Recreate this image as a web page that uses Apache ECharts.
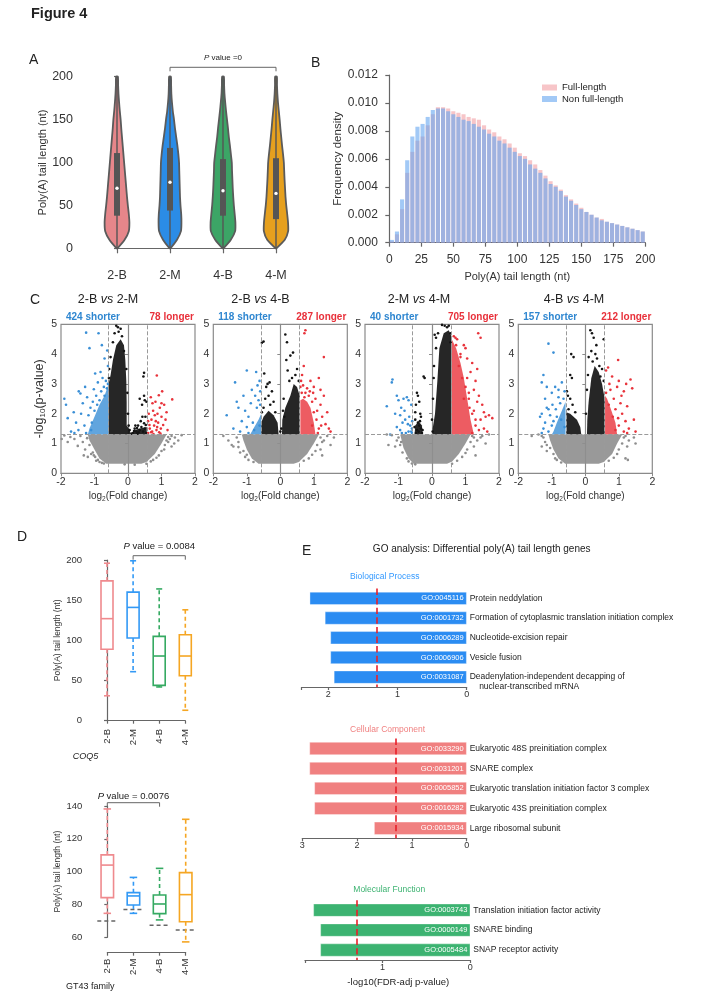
<!DOCTYPE html>
<html><head><meta charset="utf-8">
<script src="https://cdn.jsdelivr.net/npm/echarts@6/dist/echarts.min.js"></script>
<style>html,body{margin:0;padding:0;background:#fff;}#c{width:720px;height:994px;}</style>
</head><body><div id="c"></div>
<script>
// ================= DATA =================
const groups = ['2-B', '2-M', '4-B', '4-M'];

// Panel A: violin density profiles (relative half-width) at these tail lengths
const violinLevels = [0,10,20,30,40,50,60,70,80,90,100,110,120,130,140,150,160,170,180,190,200];
const violin2B = [0,0.60,0.95,1.00,0.95,0.87,0.80,0.74,0.68,0.62,0.56,0.50,0.44,0.38,0.32,0.27,0.20,0.14,0.09,0.06,0.04];
const violin2M = [0,0.55,0.88,0.92,0.90,0.84,0.80,0.78,0.76,0.74,0.72,0.66,0.58,0.48,0.38,0.30,0.20,0.13,0.08,0.06,0.04];
const violin4B = [0,0.62,0.98,1.00,0.94,0.87,0.82,0.78,0.75,0.72,0.70,0.62,0.54,0.45,0.38,0.30,0.22,0.15,0.09,0.06,0.04];
const violin4M = [0,0.70,0.98,0.97,0.90,0.82,0.76,0.72,0.68,0.65,0.62,0.55,0.47,0.40,0.33,0.27,0.20,0.13,0.08,0.05,0.04];
const violinQ1 = [38, 44, 38, 34];
const violinMedian = [70, 77, 67, 64];
const violinQ3 = [111, 117, 104, 105];
const violinMin = [0, 0, 0, 0];
const violinMax = [200, 200, 200, 200];
const pValueA = 'P value =0';

// Panel B: histogram (bin start, width 4 nt)
const binStarts = [0,4,8,12,16,20,24,28,32,36,40,44,48,52,56,60,64,68,72,76,80,84,88,92,96,100,104,108,112,116,120,124,128,132,136,140,144,148,152,156,160,164,168,172,176,180,184,188,192,196];
const binWidth = 4;
const fullLength = [0.0001,0.0006,0.0024,0.0050,0.0065,0.0073,0.0076,0.0084,0.0092,0.0097,0.0097,0.0096,0.0094,0.0093,0.0092,0.0090,0.0089,0.0088,0.0084,0.0081,0.0079,0.0076,0.0074,0.0071,0.0068,0.0064,0.0062,0.0059,0.0056,0.0052,0.0048,0.0044,0.0041,0.0038,0.0034,0.0031,0.0028,0.0025,0.0022,0.0020,0.0018,0.0017,0.0015,0.0014,0.0013,0.0012,0.0011,0.0010,0.0009,0.0008];
const nonFullLength = [0.0002,0.0008,0.0031,0.0059,0.0076,0.0083,0.0085,0.0090,0.0095,0.0096,0.0096,0.0094,0.0092,0.0090,0.0088,0.0087,0.0085,0.0083,0.0081,0.0078,0.0076,0.0073,0.0071,0.0068,0.0065,0.0062,0.0060,0.0056,0.0053,0.0050,0.0046,0.0042,0.0040,0.0037,0.0033,0.0030,0.0027,0.0024,0.0022,0.0020,0.0018,0.0016,0.0015,0.0014,0.0013,0.0012,0.0011,0.0010,0.0009,0.0008];

// Panel C: volcano plots
const comparisons = [['2-B','2-M'],['2-B','4-B'],['2-M','4-M'],['4-B','4-M']];
const shorterCounts = [424, 118, 40, 157];
const longerCounts = [78, 287, 705, 212];
const fcCut = 0.58;
const pCut = 1.3;

const v1GrayCore = [[-1.2,1.3],[1.15,1.3],[1.0,1.0],[0.8,0.65],[0.55,0.38],[0.4,0.32],[-0.65,0.32],[-0.85,0.5],[-1.0,0.8],[-1.15,1.1]];
const v1Gray = [[-1.9,1.27],[-1.72,1.22],[-1.6,1.15],[-1.5,0.92],[-1.42,1.25],[-1.35,1.05],[-1.28,0.8],[-1.22,1.18],[-1.15,0.95],[-1.1,0.65],[-1.05,0.7],[-1.02,0.6],[-0.98,0.55],[-0.95,0.42],[-0.9,0.45],[-0.85,0.38],[-0.78,0.35],[-0.72,0.33],[1.2,1.22],[1.15,1.1],[1.25,1.15],[1.1,0.95],[1.2,1.05],[1.3,1.25],[1.3,0.9],[1.4,1.2],[1.5,1.1],[1.0,0.75],[0.92,0.6],[0.85,0.52],[0.75,0.45],[0.68,0.4],[0.55,0.32],[1.08,0.8],[-1.2,0.55],[-1.8,1.05],[-1.98,1.15],[1.6,1.28],[-0.1,0.3],[0.2,0.29],[-1.32,0.6],[1.38,1.0]];
const v1BlackCores = [[[-0.58,1.3],[0.08,1.3],[0.05,1.45],[-0.04,1.6],[-0.04,2.4],[-0.05,3.1],[-0.08,3.8],[-0.12,4.3],[-0.22,4.5],[-0.35,4.3],[-0.45,3.8],[-0.52,3.3],[-0.58,3.0]],[[0.15,1.3],[0.56,1.3],[0.56,1.55],[0.35,1.5],[0.2,1.45]]];
const v1Black = [[-0.35,4.95],[-0.3,4.9],[-0.22,4.85],[-0.28,4.75],[-0.4,4.7],[-0.18,4.6],[-0.45,4.4],[-0.12,4.1],[-0.52,3.9],[-0.05,3.5],[-0.02,2.7],[0.0,2.0],[0.02,1.6],[-0.56,3.5],[-0.57,3.2],[0.48,3.37],[0.46,3.25],[0.48,2.6],[0.5,2.45],[0.35,2.5],[0.42,2.3],[0.55,2.4],[0.15,1.35],[0.2,1.5],[0.25,1.4],[0.3,1.6],[0.35,1.45],[0.4,1.55],[0.45,1.4],[0.5,1.5],[0.55,1.35],[0.32,1.38],[0.18,1.42],[0.28,1.33],[0.48,1.68],[0.38,1.75],[0.52,1.9],[0.1,1.33],[0.22,1.6],[0.43,1.9],[0.05,1.45],[0.53,1.62],[0.27,1.52]];
const v1BlueCores = [[[-0.58,1.3],[-0.58,3.0],[-0.7,2.6],[-0.85,2.3],[-1.0,1.9],[-1.15,1.5],[-1.2,1.3]]];
const v1Blue = [[-1.25,4.72],[-0.88,4.7],[-1.15,4.2],[-0.78,4.3],[-0.62,4.12],[-0.7,3.85],[-0.6,3.6],[-1.47,2.75],[-1.42,2.68],[-1.9,2.5],[-1.85,2.3],[-1.8,1.85],[-1.62,2.05],[-1.55,1.7],[-1.35,2.35],[-1.22,2.55],[-1.18,1.95],[-1.12,2.2],[-1.02,2.82],[-0.95,2.6],[-0.9,3.05],[-0.85,2.45],[-0.8,2.75],[-0.76,3.2],[-0.72,2.9],[-0.66,3.1],[-0.63,2.85],[-1.08,1.7],[-1.3,1.6],[-1.48,1.45],[-1.7,1.4],[-1.25,1.35],[-1.4,2.0],[-1.0,2.1],[-1.1,1.45],[-0.92,2.3],[-0.7,2.6],[-1.6,1.35],[-0.82,3.4],[-0.6,3.0],[-1.05,2.4],[-1.28,2.9],[-0.98,3.35]];
const v1RedCores = [];
const v1Red = [[0.6,1.35],[0.62,2.0],[0.65,1.5],[0.68,2.55],[0.7,1.8],[0.72,1.4],[0.75,2.1],[0.76,1.32],[0.78,1.6],[0.8,1.95],[0.82,2.4],[0.85,1.45],[0.86,3.28],[0.88,2.0],[0.9,1.7],[0.92,2.62],[0.95,2.2],[0.98,1.5],[1.0,1.9],[1.02,2.75],[1.05,1.62],[1.08,2.3],[1.12,1.8],[1.18,1.45],[1.32,2.48],[0.64,1.62],[0.69,1.38],[0.73,2.35],[0.83,1.75],[0.93,1.38],[1.0,2.35],[1.15,2.05],[0.87,1.55],[0.6,1.75],[0.97,1.33]];

const v2GrayCore = [[-1.15,1.3],[1.15,1.3],[1.0,1.0],[0.8,0.65],[0.55,0.38],[0.4,0.32],[-0.65,0.32],[-0.85,0.5],[-1.0,0.8],[-1.1,1.1]];
const v2Gray = [[-1.7,1.25],[-1.55,1.1],[-1.4,0.9],[-1.3,1.2],[-1.2,0.7],[-1.1,0.75],[-1.05,0.55],[-1.25,1.05],[-0.95,0.45],[-1.25,0.88],[-1.45,0.95],[-1.0,0.62],[1.2,1.2],[1.1,0.95],[1.25,1.05],[1.2,0.8],[1.3,1.1],[1.4,1.25],[1.05,0.75],[0.95,0.62],[0.85,0.5],[1.5,0.95],[1.25,0.6],[-0.8,0.38],[0.7,0.42],[1.6,1.2]];
const v2BlackCores = [[[-0.57,1.3],[-0.05,1.3],[-0.08,1.7],[-0.2,1.95],[-0.35,2.1],[-0.5,1.9],[-0.57,1.7]],[[0.05,1.3],[0.58,1.3],[0.58,2.6],[0.5,2.9],[0.4,3.0],[0.3,2.6],[0.15,2.2],[0.06,1.8]]];
const v2Black = [[-0.5,2.2],[-0.45,2.5],[-0.42,2.9],[-0.38,3.0],[-0.3,2.3],[-0.25,2.75],[-0.2,2.4],[-0.15,2.05],[-0.35,2.6],[-0.55,2.05],[-0.48,3.35],[-0.32,3.05],[-0.55,4.38],[-0.5,4.42],[0.15,4.66],[0.2,4.4],[0.38,4.05],[0.3,3.95],[0.18,3.8],[0.22,3.45],[0.45,3.3],[0.35,3.2],[0.1,2.5],[0.08,2.1],[0.12,1.9],[0.55,3.1],[0.5,3.5],[0.27,3.1],[0.03,1.5],[0.0,1.4]];
const v2BlueCores = [[[-0.57,1.3],[-0.57,2.0],[-0.65,1.8],[-0.8,1.5],[-0.9,1.3]]];
const v2Blue = [[-1.35,3.05],[-1.0,3.45],[-0.72,3.4],[-0.68,2.95],[-0.62,3.1],[-1.3,2.4],[-1.25,2.2],[-1.6,1.95],[-1.05,2.1],[-0.95,1.9],[-0.88,2.35],[-0.82,1.7],[-0.75,2.6],[-0.7,2.2],[-0.65,2.45],[-0.6,2.75],[-1.15,1.75],[-1.0,1.55],[-1.2,1.4],[-1.4,1.5],[-0.95,1.35],[-0.78,1.45],[-0.62,1.6],[-1.1,2.6],[-0.85,2.8],[-0.6,2.3]];
const v2RedCores = [[[0.6,1.3],[1.05,1.3],[1.0,1.7],[0.9,2.2],[0.8,2.4],[0.68,2.5],[0.6,2.45]]];
const v2Red = [[0.75,4.8],[0.72,4.7],[1.3,3.9],[0.65,3.3],[0.62,3.1],[0.68,2.95],[0.8,2.85],[0.9,3.1],[1.15,3.2],[1.0,2.9],[0.75,2.7],[1.05,2.5],[0.85,2.6],[1.2,2.3],[1.1,2.1],[1.25,1.9],[1.35,1.65],[1.45,1.5],[1.4,2.05],[0.95,2.4],[1.15,1.5],[1.08,1.8],[0.95,1.6],[1.3,2.6],[1.5,1.4],[0.7,3.6],[0.98,2.7],[1.2,2.8],[1.12,1.35],[0.72,2.55],[0.88,2.75],[1.0,2.05],[1.22,1.6],[0.64,2.7],[0.6,2.9]];

const v3GrayCore = [[-0.95,1.3],[1.15,1.3],[1.0,1.0],[0.8,0.65],[0.6,0.4],[0.45,0.32],[-0.55,0.32],[-0.7,0.5],[-0.85,0.85]];
const v3Gray = [[-1.35,1.3],[-1.2,1.28],[-1.05,1.1],[-1.0,1.2],[-0.95,0.95],[-0.88,0.7],[-0.92,1.05],[-0.75,0.5],[-0.7,0.4],[-1.1,0.9],[-1.3,0.95],[1.2,1.25],[1.15,1.05],[1.25,1.2],[1.25,0.9],[1.35,1.1],[1.45,1.2],[1.5,1.25],[1.05,0.8],[1.0,0.68],[0.9,0.55],[0.75,0.42],[1.3,0.6],[-0.6,0.33],[0.6,0.32],[1.6,1.0],[-0.5,0.3],[1.7,1.3]];
const v3BlackCores = [[[-0.52,1.3],[-0.28,1.3],[-0.3,1.6],[-0.4,1.75],[-0.5,1.6]],[[0.02,1.3],[0.58,1.3],[0.58,4.6],[0.5,4.8],[0.35,4.7],[0.22,4.2],[0.16,3.1],[0.09,2.0],[0.02,1.5]]];
const v3Black = [[-0.45,2.7],[-0.42,2.6],[-0.38,2.4],[-0.48,2.3],[-0.35,2.0],[-0.5,1.8],[-0.42,1.7],[-0.38,1.6],[-0.33,1.5],[-0.45,1.45],[-0.4,1.4],[-0.48,1.35],[-0.3,1.35],[-0.36,1.75],[-0.52,1.55],[-0.28,1.45],[-0.25,3.25],[-0.22,3.2],[-0.5,2.05],[-0.33,1.9],[0.3,4.98],[0.38,4.95],[0.45,4.9],[0.5,4.95],[0.55,4.7],[0.08,4.65],[0.12,4.55],[0.18,4.7],[0.05,3.2],[0.03,2.5],[0.0,1.8],[0.02,1.4],[0.55,4.4],[0.12,4.2],[0.06,3.6]];
const v3BlueCores = [];
const v3Blue = [[-1.18,3.15],[-1.2,3.05],[-1.05,2.6],[-1.0,2.45],[-0.92,2.2],[-0.85,2.5],[-0.75,2.55],[-0.7,2.45],[-0.62,2.3],[-1.35,2.25],[-1.1,2.0],[-0.95,1.95],[-0.8,1.8],[-0.72,1.65],[-0.65,1.6],[-0.88,1.7],[-0.6,1.5],[-0.7,1.4],[-0.78,1.35],[-0.62,1.4],[-1.25,1.3],[-0.95,1.45],[-0.59,1.75],[-0.68,1.9],[-1.05,1.55],[-0.82,2.1],[-0.6,1.35],[-0.9,1.35]];
const v3RedCores = [[[0.59,1.3],[1.25,1.3],[1.15,1.8],[1.05,2.5],[0.95,3.2],[0.85,3.7],[0.72,4.2],[0.59,4.5]]];
const v3Red = [[0.65,4.6],[0.7,4.55],[0.75,4.5],[1.38,4.7],[1.45,4.55],[0.95,4.3],[1.0,4.2],[0.85,4.0],[1.05,3.85],[1.2,3.7],[1.15,3.4],[1.3,3.1],[1.25,2.8],[1.4,2.6],[1.5,2.3],[1.55,2.05],[1.6,1.9],[1.7,1.95],[1.8,1.85],[1.35,2.4],[1.45,1.8],[1.3,1.6],[1.25,2.1],[1.1,2.5],[1.0,2.9],[0.9,3.2],[0.8,3.6],[1.05,3.2],[1.2,2.0],[1.4,1.45],[1.55,1.5],[0.85,3.9],[0.72,4.3],[1.1,2.7],[1.35,3.5],[1.65,1.4],[1.2,1.35],[1.3,1.8],[1.12,2.2],[0.95,2.5]];

const v4GrayCore = [[-1.1,1.3],[1.1,1.3],[0.95,1.0],[0.8,0.65],[0.55,0.38],[0.4,0.32],[-0.6,0.32],[-0.8,0.5],[-0.95,0.8],[-1.05,1.1]];
const v4Gray = [[-1.4,1.3],[-1.3,1.25],[-1.2,1.05],[-1.25,1.2],[-1.05,0.85],[-1.15,0.95],[-0.95,0.65],[-0.9,0.5],[-0.85,0.45],[-1.15,0.75],[-1.3,0.9],[1.15,1.2],[1.1,1.0],[1.2,1.25],[1.25,0.9],[1.3,1.1],[1.0,0.8],[0.95,0.65],[0.85,0.52],[1.2,0.5],[1.27,0.45],[0.7,0.42],[-0.72,0.36],[1.45,1.2],[-1.6,1.25],[1.5,1.0]];
const v4BlackCores = [[[-0.57,1.3],[-0.12,1.3],[-0.15,1.55],[-0.25,1.8],[-0.45,2.0],[-0.57,2.05]],[[0.05,1.3],[0.58,1.3],[0.58,2.5],[0.5,3.0],[0.4,3.4],[0.28,3.6],[0.18,3.2],[0.1,2.4],[0.06,1.8]]];
const v4Black = [[-0.45,3.3],[-0.4,3.2],[-0.55,2.75],[-0.52,2.6],[-0.45,2.5],[-0.38,2.3],[-0.5,2.15],[-0.3,2.05],[-0.42,4.0],[-0.35,3.9],[0.15,4.8],[0.2,4.7],[0.25,4.55],[0.18,4.1],[0.3,4.0],[0.35,3.85],[0.1,3.9],[0.22,3.75],[0.42,3.6],[0.5,3.5],[0.55,4.5],[0.08,3.3],[0.45,3.25],[0.05,2.8],[0.02,2.0],[0.33,4.3],[0.55,3.1]];
const v4BlueCores = [[[-0.59,1.3],[-0.59,2.4],[-0.7,2.1],[-0.85,1.7],[-0.95,1.4],[-1.0,1.3]]];
const v4Blue = [[-1.1,4.35],[-0.95,4.05],[-1.25,3.3],[-1.3,3.05],[-1.15,2.9],[-1.0,2.7],[-0.9,2.9],[-0.8,2.8],[-0.7,3.05],[-0.65,2.5],[-1.2,2.5],[-1.3,2.0],[-1.35,1.9],[-1.1,2.15],[-1.2,1.7],[-1.05,1.95],[-0.98,2.3],[-0.88,2.15],[-0.75,2.35],[-0.62,2.75],[-1.25,1.5],[-1.1,1.4],[-1.0,1.6],[-0.85,1.9],[-1.3,1.35],[-0.72,1.8],[-0.62,1.55],[-0.95,1.75],[-1.15,2.2],[-0.8,2.55]];
const v4RedCores = [[[0.59,1.3],[0.95,1.3],[0.9,1.7],[0.78,2.1],[0.65,2.5],[0.59,2.6]]];
const v4Red = [[0.98,3.8],[0.68,3.55],[0.62,3.45],[0.8,3.25],[1.0,3.1],[1.35,3.15],[1.22,3.0],[0.95,2.9],[0.75,2.8],[1.15,2.75],[1.4,2.85],[0.85,2.5],[1.05,2.35],[1.25,2.25],[0.7,2.3],[0.9,2.15],[1.1,2.0],[1.2,1.75],[1.45,1.8],[1.0,1.6],[1.3,1.5],[0.98,1.85],[1.15,1.4],[0.82,1.9],[0.62,2.7],[1.08,2.6],[1.5,1.4],[1.25,1.35],[0.72,3.0],[0.9,1.45]];

// Panel D: box plots [min, Q1, median, Q3, max]
const coq5Stats = [[31,89,127,174,196],[61,103,141,160,199],[42,44,80.5,105,164],[13,56,80.5,107,138]];
const coq5PValue = 'P value = 0.0084';
const gt43Stats = [[74.6,84.2,104,110.2,138.2],[74.6,79.7,85.2,87.2,96.5],[70.6,74.4,80.3,85.8,102],[57.2,69.5,86,99.4,131.9]];
const gt43Reference = [70, 76.9, 67.3, 64.5];
const gt43PValue = 'P value = 0.0076';

// Panel E: GO analysis
const bpTerms = ['Protein neddylation','Formation of cytoplasmic translation initiation complex','Nucleotide-excision repair','Vesicle fusion','Deadenylation-independent decapping of\n    nuclear-transcribed mRNA'];
const bpIds = ['GO:0045116','GO:0001732','GO:0006289','GO:0006906','GO:0031087'];
const bpValues = [2.27, 2.05, 1.97, 1.97, 1.92];
const ccTerms = ['Eukaryotic 48S preinitiation complex','SNARE complex','Eukaryotic translation initiation factor 3 complex','Eukaryotic 43S preinitiation complex','Large ribosomal subunit'];
const ccIds = ['GO:0033290','GO:0031201','GO:0005852','GO:0016282','GO:0015934'];
const ccValues = [2.87, 2.87, 2.78, 2.78, 1.69];
const mfTerms = ['Translation initiation factor activity','SNARE binding','SNAP receptor activity'];
const mfIds = ['GO:0003743','GO:0000149','GO:0005484'];
const mfValues = [1.79, 1.71, 1.71];
const fdrThreshold = 1.3;

// ================= STYLE / LAYOUT =================
const FF = '"Liberation Sans", Arial, Helvetica, sans-serif';
const AXC = '#666';
const violinColors = ['#e6868a','#2b8ce6','#3ca566','#e6a01e'];
const boxColors = ['#ef8a8e','#3399f5','#35aa62','#f5a623'];
const volcanoGray = '#8e8e8e', volcanoBlack = '#141414', volcanoBlue = '#3a8fd6', volcanoRed = '#e8333b';
const vLeft = [61, 213.3, 365, 518.3];
const vTitleX = [108, 260.5, 419, 574];

const chart = echarts.init(document.getElementById('c'), null, {renderer: 'canvas'});

function axLine() { return {show: true, lineStyle: {color: AXC, width: 1.2}}; }
function axTick(len) { return {show: true, inside: false, length: len, lineStyle: {color: AXC, width: 1.2}}; }

const grids = [
  {left: 117, top: 76.7, width: 159, height: 171.6},
  {left: 389.3, top: 75, width: 256, height: 167.7}
];
vLeft.forEach(l => grids.push({left: l, top: 324.3, width: 134, height: 149, show: true, borderColor: '#8a8a8a', borderWidth: 1.2}));
grids.push({left: 107, top: 560, width: 78.3, height: 160.7});
grids.push({left: 107.3, top: 806, width: 78.4, height: 131.3});
grids.push({left: 301.7, top: 588.5, width: 165, height: 98.5});
grids.push({left: 302.3, top: 738.5, width: 164.4, height: 99.8});
grids.push({left: 305, top: 900.2, width: 165.3, height: 59.8});

const xAxes = [], yAxes = [];
// A
xAxes.push({gridIndex: 0, type: 'value', min: 0, max: 3, interval: 1, offset: 12, axisLine: axLine(), axisTick: axTick(5), splitLine: {show: false},
  axisLabel: {formatter: v => groups[v] || '', fontSize: 12.5, color: '#333', fontFamily: FF, margin: 9}});
yAxes.push({gridIndex: 0, type: 'value', min: 0, max: 200, interval: 50, offset: 40, axisLine: axLine(), axisTick: axTick(3), splitLine: {show: false},
  axisLabel: {fontSize: 12.5, color: '#333', fontFamily: FF, margin: 4},
  name: 'Poly(A) tail length (nt)', nameLocation: 'middle', nameGap: 26, nameTextStyle: {fontSize: 11, color: '#333', fontFamily: FF}});
// B
xAxes.push({gridIndex: 1, type: 'value', min: 0, max: 200, interval: 25, offset: 7.3, axisLine: axLine(), axisTick: axTick(4), splitLine: {show: false},
  axisLabel: {fontSize: 12, color: '#333', fontFamily: FF, margin: 4},
  name: 'Poly(A) tail length (nt)', nameLocation: 'middle', nameGap: 21, nameTextStyle: {fontSize: 11, color: '#333', fontFamily: FF}});
yAxes.push({gridIndex: 1, type: 'value', min: 0, max: 0.012, interval: 0.002, offset: 7.5, axisLine: axLine(), axisTick: axTick(4), splitLine: {show: false},
  axisLabel: {formatter: v => v.toFixed(3), fontSize: 12, color: '#333', fontFamily: FF, margin: 4},
  name: 'Frequency density', nameLocation: 'middle', nameGap: 36, nameTextStyle: {fontSize: 11.5, color: '#333', fontFamily: FF}});
// C
vLeft.forEach((l, k) => {
  xAxes.push({gridIndex: 2 + k, type: 'value', min: -2, max: 2, interval: 1, axisLine: {show: true, lineStyle: {color: '#8a8a8a', width: 1.2}}, axisTick: {show: true, length: 3, lineStyle: {color: '#8a8a8a'}}, splitLine: {show: false},
    axisLabel: {fontSize: 10.5, color: '#333', fontFamily: FF, margin: 3},
    name: 'log{s|2}(Fold change)', nameLocation: 'middle', nameGap: 17,
    nameTextStyle: {fontSize: 10, color: '#333', fontFamily: FF, rich: {s: {fontSize: 6.5, fontFamily: FF, color: '#333', padding: [5, 0, 0, 0]}}}});
  const ya = {gridIndex: 2 + k, type: 'value', min: 0, max: 5, interval: 1, axisLine: {show: true, lineStyle: {color: '#8a8a8a', width: 1.2}}, axisTick: {show: true, length: 3, lineStyle: {color: '#8a8a8a'}}, splitLine: {show: false},
    axisLabel: {fontSize: 10.5, color: '#333', fontFamily: FF, margin: 4}};
  if (k === 0) {
    ya.name = '-log{s|10}(p-value)'; ya.nameLocation = 'middle'; ya.nameGap = 14;
    ya.nameTextStyle = {fontSize: 12.5, color: '#333', fontFamily: FF, rich: {s: {fontSize: 8, fontFamily: FF, color: '#333', padding: [6, 0, 0, 0]}}};
  }
  yAxes.push(ya);
});
// D1, D2
xAxes.push({gridIndex: 6, type: 'value', min: 0, max: 3, interval: 1, offset: 5.3, axisLine: axLine(), axisTick: axTick(3), splitLine: {show: false},
  axisLabel: {formatter: v => groups[v] || '', rotate: 90, fontSize: 9.5, color: '#333', fontFamily: FF, margin: 3}});
yAxes.push({gridIndex: 6, type: 'value', min: 0, max: 200, interval: 50, offset: 20, axisLine: axLine(), axisTick: axTick(3), splitLine: {show: false},
  axisLabel: {fontSize: 9.5, color: '#333', fontFamily: FF, margin: 5},
  name: 'Poly(A) tail length (nt)', nameLocation: 'middle', nameGap: 18, nameTextStyle: {fontSize: 8.5, color: '#333', fontFamily: FF}});
xAxes.push({gridIndex: 7, type: 'value', min: 0, max: 3, interval: 1, offset: 15.4, axisLine: axLine(), axisTick: axTick(3), splitLine: {show: false},
  axisLabel: {formatter: v => groups[v] || '', rotate: 90, fontSize: 9.5, color: '#333', fontFamily: FF, margin: 6}});
yAxes.push({gridIndex: 7, type: 'value', min: 60, max: 140, interval: 20, offset: 20, axisLine: axLine(), axisTick: axTick(3), splitLine: {show: false},
  axisLabel: {fontSize: 9.5, color: '#333', fontFamily: FF, margin: 5},
  name: 'Poly(A) tail length (nt)', nameLocation: 'middle', nameGap: 22, nameTextStyle: {fontSize: 8.5, color: '#333', fontFamily: FF}});
// E
const goMax = [2.385, 3, 1.885];
const goTerms = [bpTerms, ccTerms, mfTerms];
goMax.forEach((m, k) => {
  xAxes.push({gridIndex: 8 + k, type: 'value', inverse: true, min: 0, max: m, interval: 1, axisLine: axLine(), axisTick: axTick(3), splitLine: {show: false},
    axisLabel: {formatter: v => (Math.abs(v - Math.round(v)) < 1e-9 ? String(Math.round(v)) : ''), fontSize: 9, color: '#333', fontFamily: FF, margin: 3}});
  yAxes.push({gridIndex: 8 + k, type: 'category', data: goTerms[k], inverse: true, position: 'right', axisLine: {show: false}, axisTick: {show: false},
    axisLabel: {interval: 0, hideOverlap: false, fontSize: 8.5, color: '#222', fontFamily: FF, margin: 3, lineHeight: 10,
      // a multi-line term keeps its first line level with its bar
      formatter: t => (t.indexOf('\n') >= 0 ? ' \n' + t : t)}});
});

const series = [];

// ---- A: violins
const violinDensity = [violin2B, violin2M, violin4B, violin4M];
series.push({
  type: 'custom', xAxisIndex: 0, yAxisIndex: 0, silent: true,
  data: groups.map((g, i) => [i, violinMedian[i]]),
  renderItem: (p, api) => {
    const i = p.dataIndex, dens = violinDensity[i], W = 12;
    const right = [], left = [];
    violinLevels.forEach((lv, j) => {
      const c = api.coord([i, lv]);
      right.push([c[0] + dens[j] * W + 0.4, c[1]]);
      left.push([c[0] - dens[j] * W - 0.4, c[1]]);
    });
    const pts = right.concat(left.reverse());
    const q1 = api.coord([i, violinQ1[i]]), q3 = api.coord([i, violinQ3[i]]), md = api.coord([i, violinMedian[i]]);
    const lo = api.coord([i, violinMin[i]]), hi = api.coord([i, violinMax[i]]);
    return {type: 'group', children: [
      {type: 'polygon', shape: {points: pts, smooth: 0.2}, style: {fill: violinColors[i], stroke: '#5b5b5b', lineWidth: 1.8}},
      {type: 'line', shape: {x1: lo[0], y1: lo[1], x2: hi[0], y2: hi[1]}, style: {stroke: '#555', lineWidth: 1.4}},
      {type: 'rect', shape: {x: q3[0] - 3, y: q3[1], width: 6, height: q1[1] - q3[1]}, style: {fill: '#555'}},
      {type: 'circle', shape: {cx: md[0], cy: md[1], r: 1.7}, style: {fill: '#fff'}}
    ]};
  }
});

function bracketSeries(gi, from, to, yTop, gap, tickLen, textGap, label, fontSize) {
  return {
    type: 'custom', xAxisIndex: gi, yAxisIndex: gi, silent: true, data: [[from, yTop]],
    renderItem: (p, api) => {
      const a = api.coord([from, yTop]), b = api.coord([to, yTop]);
      const y = a[1] - gap;
      const parts = label.split('P');
      return {type: 'group', children: [
        {type: 'polyline', shape: {points: [[a[0], y + tickLen], [a[0], y], [b[0], y], [b[0], y + tickLen]]}, style: {stroke: '#666', lineWidth: 1, fill: null}},
        {type: 'text', x: (a[0] + b[0]) / 2, y: y - textGap, style: {text: '{i|P}' + parts[1], align: 'center', verticalAlign: 'middle',
          rich: {i: {fontStyle: 'italic', fontSize: fontSize, fontFamily: FF, fill: '#222'}}, fontSize: fontSize, fontFamily: FF, fill: '#222'}}
      ]};
    }
  };
}
series.push(bracketSeries(0, 1, 3, 200, 9.4, 4, 10, pValueA, 8));

// ---- B: histogram
function histSeries(name, vals, color) {
  return {
    type: 'custom', name: name, xAxisIndex: 1, yAxisIndex: 1, silent: true, itemStyle: {color: color},
    data: binStarts.map((b, i) => [b, vals[i]]),
    renderItem: (p, api) => {
      const x0 = api.value(0), v = api.value(1);
      const a = api.coord([x0, v]), b = api.coord([x0 + binWidth, 0]);
      return {type: 'rect', shape: {x: a[0] + 0.5, y: a[1], width: b[0] - a[0] - 1, height: b[1] - a[1]}, style: {fill: color}};
    }
  };
}
series.push(histSeries('Full-length', fullLength, 'rgba(240,150,155,0.55)'));
series.push(histSeries('Non full-length', nonFullLength, 'rgba(100,165,240,0.6)'));

// ---- C: volcano
const volcano = [
  [v1GrayCore, v1Gray, v1BlackCores, v1Black, v1BlueCores, v1Blue, v1RedCores, v1Red],
  [v2GrayCore, v2Gray, v2BlackCores, v2Black, v2BlueCores, v2Blue, v2RedCores, v2Red],
  [v3GrayCore, v3Gray, v3BlackCores, v3Black, v3BlueCores, v3Blue, v3RedCores, v3Red],
  [v4GrayCore, v4Gray, v4BlackCores, v4Black, v4BlueCores, v4Blue, v4RedCores, v4Red]
];
function polySeries(gi, polys, color, op) {
  return {type: 'custom', xAxisIndex: gi, yAxisIndex: gi, silent: true, data: polys.map((pp, i) => [i, 0]),
    renderItem: (p, api) => ({type: 'polygon', shape: {points: polys[p.dataIndex].map(pt => api.coord(pt))}, style: {fill: color, opacity: op}})};
}
function ptSeries(gi, pts, color, extra) {
  return Object.assign({type: 'scatter', xAxisIndex: gi, yAxisIndex: gi, silent: true, data: pts, symbolSize: 2.6,
    itemStyle: {color: color, opacity: 1}}, extra || {});
}
volcano.forEach((v, k) => {
  const gi = 2 + k;
  series.push(polySeries(gi, [v[0]], volcanoGray, 0.9));
  series.push(ptSeries(gi, v[1], volcanoGray, {markLine: {silent: true, symbol: ['none', 'none'], label: {show: false},
    lineStyle: {color: '#9a9a9a', type: 'dashed', width: 1}, data: [{xAxis: -fcCut}, {xAxis: fcCut}, {yAxis: pCut}]}}));
  series.push(polySeries(gi, v[2], volcanoBlack, 0.92));
  series.push(ptSeries(gi, v[3], volcanoBlack));
  series.push(polySeries(gi, v[4], volcanoBlue, 0.8));
  series.push(ptSeries(gi, v[5], volcanoBlue));
  series.push(polySeries(gi, v[6], volcanoRed, 0.8));
  series.push(ptSeries(gi, v[7], volcanoRed));
});

// ---- D: box plots
function boxSeries(gi, stats, boxW, capW) {
  return {
    type: 'custom', xAxisIndex: gi, yAxisIndex: gi, silent: true, data: stats.map((s, i) => [i, s[2]]),
    renderItem: (p, api) => {
      const i = p.dataIndex, s = stats[i], col = boxColors[i];
      const c = s.map(v => api.coord([i, v]));
      const x = c[0][0];
      const st = {stroke: col, lineWidth: 1.6, fill: null};
      const dash = {stroke: col, lineWidth: 1.6, lineDash: [4, 3]};
      return {type: 'group', children: [
        {type: 'line', shape: {x1: x, y1: c[3][1], x2: x, y2: c[4][1]}, style: dash},
        {type: 'line', shape: {x1: x, y1: c[1][1], x2: x, y2: c[0][1]}, style: dash},
        {type: 'line', shape: {x1: x - capW / 2, y1: c[4][1], x2: x + capW / 2, y2: c[4][1]}, style: st},
        {type: 'line', shape: {x1: x - capW / 2, y1: c[0][1], x2: x + capW / 2, y2: c[0][1]}, style: st},
        {type: 'rect', shape: {x: x - boxW / 2, y: c[3][1], width: boxW, height: c[1][1] - c[3][1]}, style: {stroke: col, lineWidth: 1.6, fill: '#fff'}},
        {type: 'line', shape: {x1: x - boxW / 2, y1: c[2][1], x2: x + boxW / 2, y2: c[2][1]}, style: st}
      ]};
    }
  };
}
series.push(boxSeries(6, coq5Stats, 12, 6));
series.push(bracketSeries(6, 1, 3, 200, 4.3, 4, 9, coq5PValue, 9.5));
series.push({
  type: 'custom', xAxisIndex: 7, yAxisIndex: 7, silent: true, data: gt43Reference.map((v, i) => [i, v]),
  renderItem: (p, api) => {
    const c = api.coord([api.value(0), api.value(1)]);
    return {type: 'line', shape: {x1: c[0] - 10, y1: c[1], x2: c[0] + 10, y2: c[1]}, style: {stroke: '#666', lineWidth: 1.5, lineDash: [4, 3]}};
  }
});
series.push(boxSeries(7, gt43Stats, 12.5, 7.5));
series.push(bracketSeries(7, 0, 2, 140, 3.3, 4, 6, gt43PValue, 9.5));

// ---- E: GO bars
const goValues = [bpValues, ccValues, mfValues];
const goIds = [bpIds, ccIds, mfIds];
const goColors = ['#2b8cf2', '#f08080', '#3cb371'];
goValues.forEach((vals, k) => {
  series.push({
    type: 'bar', xAxisIndex: 8 + k, yAxisIndex: 8 + k, silent: true, data: vals, barWidth: 13,
    itemStyle: {color: goColors[k], borderColor: 'rgba(255,255,255,0.6)', borderWidth: 0.6},
    label: {show: true, position: 'insideRight', distance: 3, color: '#fff', fontSize: 7.5, fontFamily: FF, formatter: p => goIds[k][p.dataIndex]},
    markLine: {silent: true, symbol: ['none', 'none'], label: {show: false}, lineStyle: {color: '#e8202a', type: 'dashed', width: 1.6}, data: [{xAxis: fdrThreshold}]}
  });
});

// ---- text annotations
function T(x, y, text, opt) {
  return {type: 'text', x: x, y: y, silent: true, style: Object.assign({text: text, fill: '#222', fontSize: 12, fontFamily: FF, align: 'left', verticalAlign: 'middle'}, opt || {})};
}
const graphics = [
  T(31, 14, 'Figure 4', {fontSize: 14.5, fontWeight: 'bold'}),
  T(29, 60, 'A', {fontSize: 14}),
  T(311, 63, 'B', {fontSize: 14}),
  T(30, 300, 'C', {fontSize: 14}),
  T(17, 537, 'D', {fontSize: 14}),
  T(302, 551, 'E', {fontSize: 14}),
  T(72.7, 756, 'COQ5', {fontSize: 9, fontStyle: 'italic'}),
  T(66, 986.7, 'GT43 family', {fontSize: 9}),
  T(481.7, 549, 'GO analysis: Differential poly(A) tail length genes', {fontSize: 10, align: 'center'}),
  T(350, 576.7, 'Biological Process', {fontSize: 8.5, fill: '#3399ff'}),
  T(350, 729.3, 'Cellular Component', {fontSize: 8.5, fill: '#f08080'}),
  T(353.3, 890, 'Molecular Function', {fontSize: 8.5, fill: '#3cb371'}),
  T(398.3, 982.7, '-log10(FDR-adj p-value)', {fontSize: 9.5, align: 'center'})
];
comparisons.forEach((c, k) => {
  graphics.push(T(vTitleX[k], 300, '{a|' + c[0] + ' }{i|vs}{a| ' + c[1] + '}', {align: 'center',
    rich: {a: {fontSize: 12.5, fontFamily: FF, fill: '#222'}, i: {fontSize: 12.5, fontFamily: FF, fontStyle: 'italic', fill: '#222'}}}));
  graphics.push(T(vLeft[k] + 5, 317.7, shorterCounts[k] + ' shorter', {fontSize: 10, fontWeight: 'bold', fill: '#2e86d0'}));
  graphics.push(T(vLeft[k] + 133, 317.7, longerCounts[k] + ' longer', {fontSize: 10, fontWeight: 'bold', fill: '#e8303a', align: 'right'}));
});

chart.setOption({
  animation: false,
  backgroundColor: '#fff',
  textStyle: {fontFamily: FF},
  grid: grids,
  xAxis: xAxes,
  yAxis: yAxes,
  legend: {left: 537, top: 77.5, orient: 'vertical', itemWidth: 15, itemHeight: 6, itemGap: 1.5, selectedMode: false,
    textStyle: {fontSize: 9.5, color: '#222', fontFamily: FF},
    data: [{name: 'Full-length', icon: 'rect'}, {name: 'Non full-length', icon: 'rect'}]},
  series: series,
  graphic: graphics
});
</script>
</body></html>
